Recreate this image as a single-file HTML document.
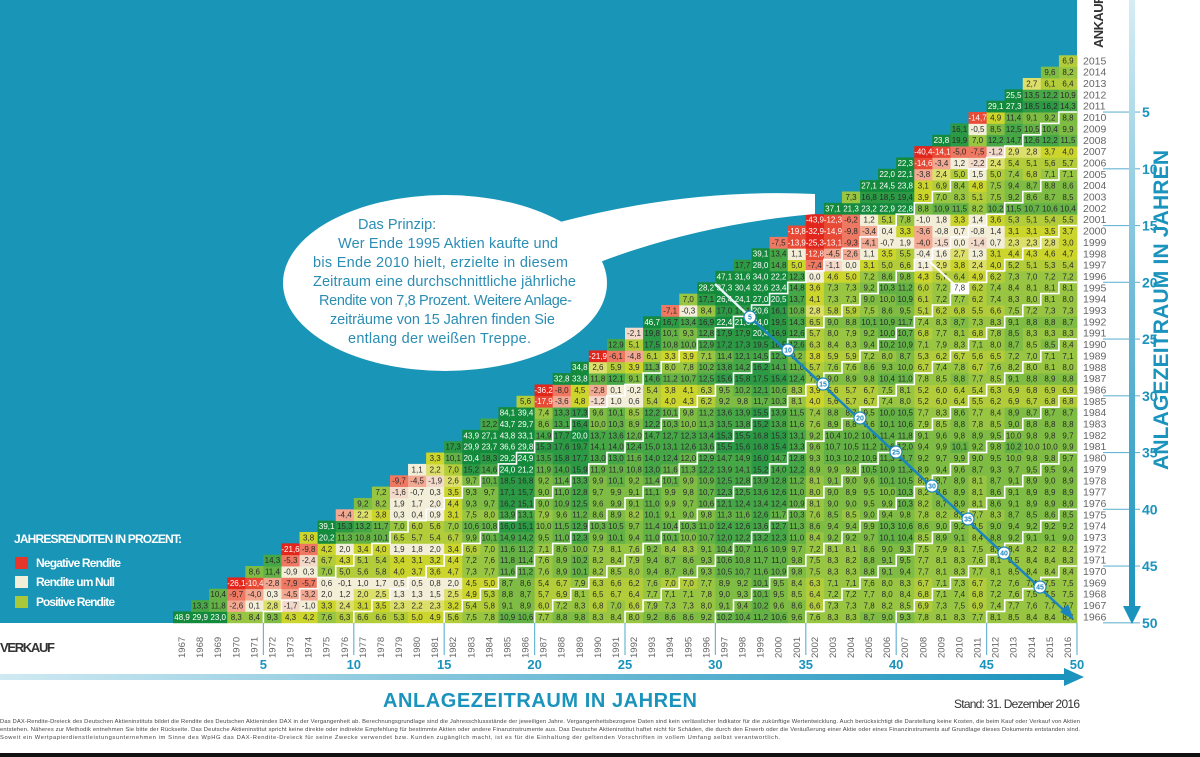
<!DOCTYPE html>
<html><head><meta charset="utf-8">
<style>
html,body{margin:0;padding:0;background:#fff;}
svg{display:block;font-family:"Liberation Sans",sans-serif;}
</style></head>
<body>
<svg id="s" width="1200" height="757" viewBox="0 0 1200 757" xmlns="http://www.w3.org/2000/svg">
<defs>
<linearGradient id="ga" x1="0" y1="0" x2="1" y2="0"><stop offset="0" stop-color="#cfe9f2"/><stop offset="1" stop-color="#1a93bd"/></linearGradient>
<linearGradient id="gv" x1="0" y1="0" x2="0" y2="1"><stop offset="0" stop-color="#d6edf5"/><stop offset="0.5" stop-color="#6dbbd6"/><stop offset="1" stop-color="#1a93bd"/></linearGradient>
</defs>
<rect x="0" y="0" width="1200" height="757" fill="#fff"/>
<rect x="0" y="0" width="1077" height="623" fill="#1895b7"/>
<g id="cells"></g>
<g id="stairs" fill="none" stroke="#fff" stroke-width="1.6"></g>
<!-- bubble -->
<path d="M560,222 Q690,188 815,194 L815,214 Q700,224 600,262 Z" fill="#fff"/>
<ellipse cx="445" cy="283" rx="162" ry="88" fill="#fff"/>
<g fill="#2b8db4" font-size="14.5">
<text x="358" y="229">Das Prinzip:</text>
<text x="338" y="248" textLength="220">Wer Ende 1995 Aktien kaufte und</text>
<text x="313" y="267" textLength="255">bis Ende 2010 hielt, erzielte in diesem</text>
<text x="313" y="286" textLength="263">Zeitraum eine durchschnittliche jährliche</text>
<text x="319" y="305" textLength="253">Rendite von 7,8 Prozent. Weitere Anlage-</text>
<text x="330" y="324" textLength="225">zeiträume von 15 Jahren finden Sie</text>
<text x="348" y="343" textLength="183">entlang der weißen Treppe.</text>
</g>
<line x1="930" y1="262" x2="955" y2="285" stroke="#fff" stroke-width="2"/>
<!-- blue line -->
<line x1="715" y1="284" x2="750" y2="317" stroke="#e8f4f8" stroke-width="2.5"/>
<line x1="750" y1="317" x2="1070" y2="616" stroke="#1a86bd" stroke-width="2.5"/>
<g id="circ"></g>
<!-- legend -->
<text x="14" y="543" fill="#fff" font-weight="bold" font-size="12" textLength="168">JAHRESRENDITEN IN PROZENT:</text>
<rect x="15" y="557" width="13" height="12" fill="#e8352a"/>
<rect x="15" y="576" width="13" height="12" fill="#f2eed8"/>
<rect x="15" y="596" width="13" height="12" fill="#a8c83a"/>
<g fill="#fff" font-weight="bold" font-size="12">
<text x="36" y="567" textLength="85">Negative Rendite</text>
<text x="36" y="586" textLength="79">Rendite um Null</text>
<text x="36" y="606" textLength="79">Positive Rendite</text>
</g>
<!-- axes -->
<g id="xlab" fill="#666" font-size="9.5"></g>
<g id="ylab" fill="#666" font-size="10.5"></g>
<g id="ticks"></g>
<text x="0" y="652" fill="#333" font-weight="bold" font-size="13" textLength="56" letter-spacing="1">VERKAUF</text>
<text transform="translate(1103,48) rotate(-90)" x="0" y="0" fill="#333" font-weight="bold" font-size="13" textLength="52">ANKAUF</text>
<rect x="0" y="674" width="1066" height="6" fill="url(#ga)"/>
<polygon points="1064,668 1084,677 1064,686" fill="#1a93bd"/>
<rect x="1129" y="0" width="6" height="608" fill="url(#gv)"/>
<polygon points="1123,606 1141,606 1132,624" fill="#1a93bd"/>
<text x="383" y="707" fill="#1a93bd" font-weight="bold" font-size="20" textLength="314">ANLAGEZEITRAUM IN JAHREN</text>
<text transform="translate(1168,470) rotate(-90)" x="0" y="0" fill="#1a93bd" font-weight="bold" font-size="21" textLength="320">ANLAGEZEITRAUM IN JAHREN</text>
<text x="954" y="708" fill="#333" font-size="12" textLength="126">Stand: 31. Dezember 2016</text>
<g fill="#444" font-size="5.8">
<text x="0" y="723" textLength="1080">Das DAX-Rendite-Dreieck des Deutschen Aktieninstituts bildet die Rendite des Deutschen Aktienindex DAX in der Vergangenheit ab. Berechnungsgrundlage sind die Jahresschlussstände der jeweiligen Jahre. Vergangenheitsbezogene Daten sind kein verlässlicher Indikator für die zukünftige Wertentwicklung. Auch berücksichtigt die Darstellung keine Kosten, die beim Kauf oder Verkauf von Aktien</text>
<text x="0" y="731" textLength="1080">entstehen. Näheres zur Methodik entnehmen Sie bitte der Rückseite. Das Deutsche Aktieninstitut spricht keine direkte oder indirekte Empfehlung für bestimmte Aktien oder andere Finanzinstrumente aus. Das Deutsche Aktieninstitut haftet nicht für Schäden, die durch den Erwerb oder die Veräußerung einer Aktie oder eines Finanzinstruments auf Grundlage dieses Dokuments entstanden sind.</text>
<text x="0" y="739" textLength="780">Soweit ein Wertpapierdienstleistungsunternehmen im Sinne des WpHG das DAX-Rendite-Dreieck für seine Zwecke verwendet bzw. Kunden zugänglich macht, ist es für die Einhaltung der geltenden Vorschriften in vollem Umfang selbst verantwortlich.</text>
</g>
<rect x="0" y="753" width="1200" height="4" fill="#111"/>
</svg>
<script>
(function(){
var R={1967:48.9,1968:13.3,1969:10.4,1970:-26.1,1971:8.6,1972:14.3,1973:-21.6,1974:3.8,1975:39.1,1976:-4.4,1977:9.2,1978:7.2,1979:-9.7,1980:1.1,1981:3.3,1982:17.3,1983:43.9,1984:12.2,1985:84.1,1986:5.6,1987:-36.2,1988:32.8,1989:34.8,1990:-21.9,1991:12.9,1992:-2.1,1993:46.7,1994:-7.1,1995:7.0,1996:28.2,1997:47.1,1998:17.7,1999:39.1,2000:-7.5,2001:-19.8,2002:-43.9,2003:37.1,2004:7.3,2005:27.1,2006:22.0,2007:22.3,2008:-40.4,2009:23.8,2010:16.1,2011:-14.7,2012:29.1,2013:25.5,2014:2.7,2015:9.6,2016:6.9};
var X0=173,W=18.08,Y0=55.3,H=11.35;
function col(v){
 if(v<=-20)return"#e2261c"; if(v<=-10)return"#e84a36"; if(v<=-5)return"#ee7862";
 if(v<=-2.5)return"#f3a892"; if(v<-1)return"#f3d9c9"; if(v<2)return"#f2eed8";
 if(v<3)return"#dcdf6a"; if(v<5)return"#ccd52c"; if(v<7)return"#b3cd3a";
 if(v<8.5)return"#98c542"; if(v<10)return"#7fbc44"; if(v<12)return"#64b245";
 if(v<15)return"#46a746"; if(v<20)return"#2c9a45"; return"#148a3c";}
var out=[];
for(var b=1966;b<=2015;b++){
 var p=1;
 for(var s=b+1;s<=2016;s++){
  p*=1+R[s]/100; var n=s-b; var v=(Math.pow(p,1/n)-1)*100;
  var x=X0+(s-1967)*W, y=Y0+(2015-b)*H;
  var c=col(v), tc=(v>=20||v<=-10)?"#fff":"#2a2a2a";
  if(b==1995&&s==2010){c="#fff";tc="#333";}
  var t=v.toFixed(1).replace('.',',').replace(/^-0,0$/,'0,0');
  out.push('<rect x="'+x.toFixed(2)+'" y="'+y.toFixed(2)+'" width="'+(W+0.4).toFixed(2)+'" height="'+(H+0.4).toFixed(2)+'" fill="'+c+'"/>');
  out.push('<text x="'+(x+W/2).toFixed(2)+'" y="'+(y+8.4).toFixed(2)+'" font-size="8" text-anchor="middle" fill="'+tc+'">'+t+'</text>');
 }
}
document.getElementById('cells').innerHTML=out.join('');
var st=[],tk=[];
for(var n=5;n<=45;n+=5){
 var d='M'+(X0+n*W).toFixed(1)+','+(Y0+50*H).toFixed(1);
 for(var r=0;r<50-n;r++){
  d+=' V'+(Y0+(49-r)*H).toFixed(1)+' H'+(X0+(n+r+1)*W).toFixed(1);
 }
 st.push('<path d="'+d+'"/>');
}
document.getElementById('stairs').innerHTML=st.join('');
for(var n=5;n<=50;n+=5){
 var x=X0+n*W, y=Y0+n*H;
 tk.push('<line x1="'+x+'" y1="623" x2="'+x+'" y2="655" stroke="#6ab6d3" stroke-width="1.2"/>');
 tk.push('<text x="'+x+'" y="669" text-anchor="middle" fill="#1a93bd" font-weight="bold" font-size="13">'+n+'</text>');
 tk.push('<line x1="1103" y1="'+y+'" x2="1140" y2="'+y+'" stroke="#6ab6d3" stroke-width="1.2"/>');
 tk.push('<text x="1142" y="'+(y+5)+'" fill="#1a93bd" font-weight="bold" font-size="14">'+n+'</text>');
}
document.getElementById('ticks').innerHTML=tk.join('');
var xl=[],yl=[];
for(var s=1967;s<=2016;s++){
 var cx=X0+(s-1967)*W+W/2+3;
 xl.push('<text transform="translate('+cx.toFixed(1)+',658) rotate(-90)">'+s+'</text>');
}
for(var b=1966;b<=2015;b++){
 yl.push('<text x="1083" y="'+(Y0+(2015-b)*H+9).toFixed(1)+'">'+b+'</text>');
}
document.getElementById('xlab').innerHTML=xl.join('');
document.getElementById('ylab').innerHTML=yl.join('');
var pts=[[750,317],[788,350],[823,384],[860,418],[896,452],[932,486],[968,519],[1004,553],[1040,587]],ci=[];
for(var i=0;i<pts.length;i++){
 ci.push('<circle cx="'+pts[i][0]+'" cy="'+pts[i][1]+'" r="6" fill="#fff" stroke="#1a86bd" stroke-width="1.2"/>');
 ci.push('<text x="'+pts[i][0]+'" y="'+(pts[i][1]+2.5)+'" text-anchor="middle" font-size="7" font-weight="bold" fill="#1a86bd">'+((i+1)*5)+'</text>');
}
ci.push('<polygon points="1074,620 1060,612 1068,604" fill="#1a86bd"/>');
document.getElementById('circ').innerHTML=ci.join('');
})();
</script>
</body></html>
